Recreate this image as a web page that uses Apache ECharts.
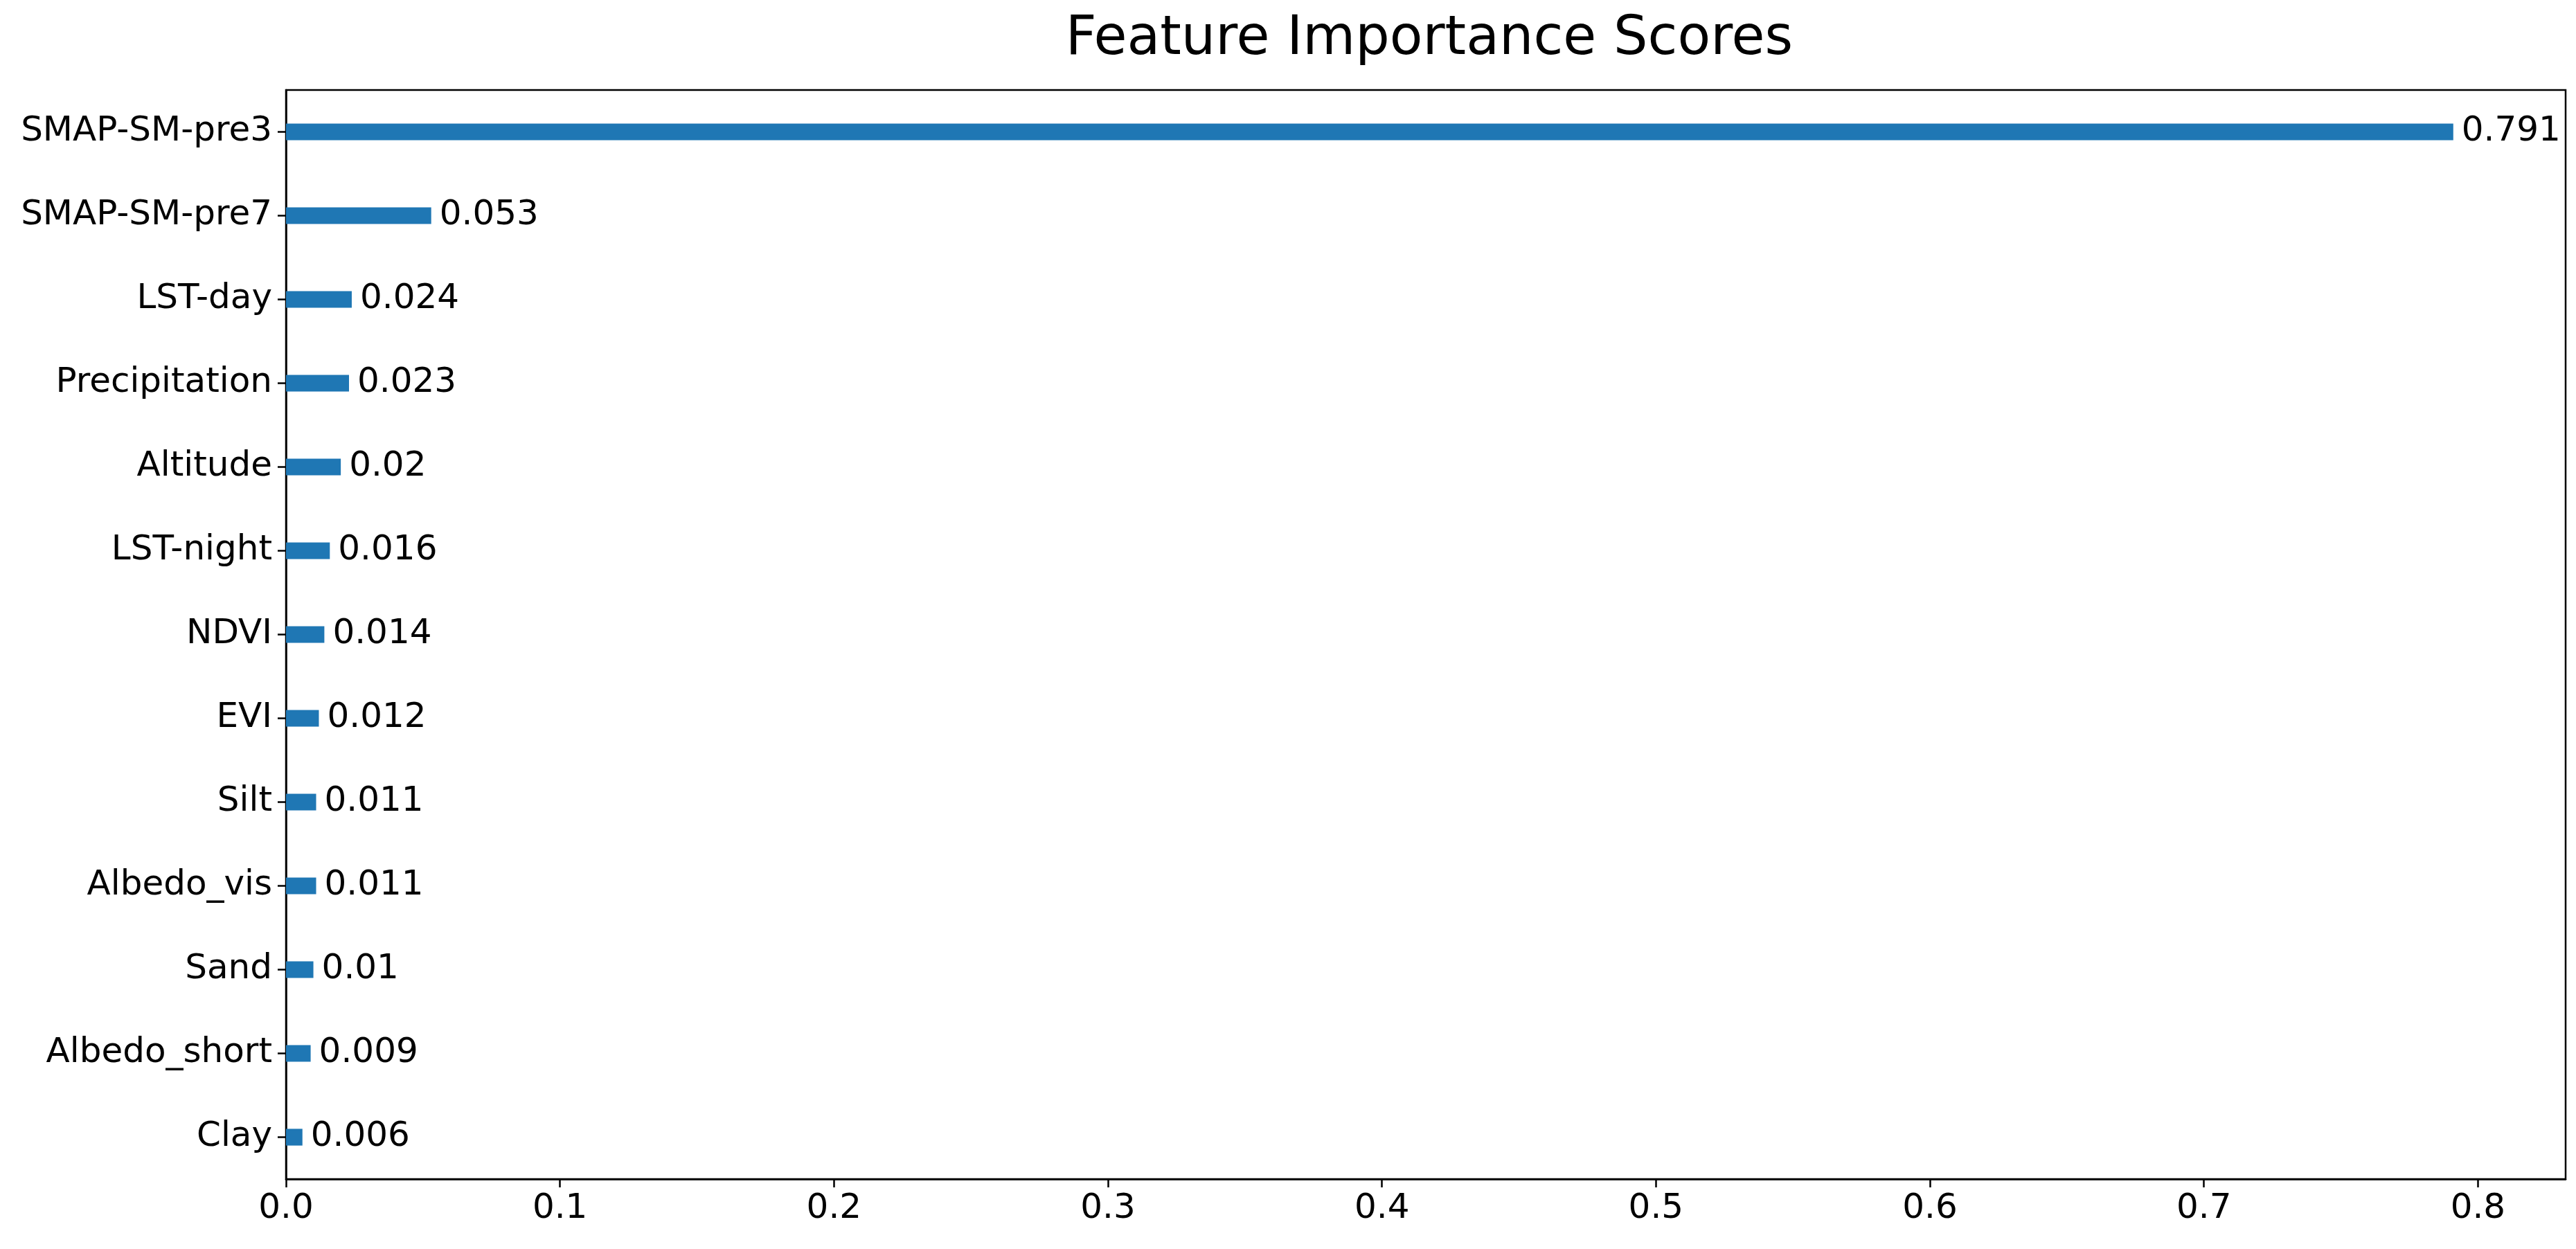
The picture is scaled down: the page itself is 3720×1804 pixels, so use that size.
<!DOCTYPE html>
<html>
<head>
<meta charset="utf-8">
<script src="https://cdn.jsdelivr.net/npm/echarts@6/dist/echarts.min.js"></script>
<style>html,body{margin:0;padding:0;background:#fff}#chart{width:3720px;height:1804px}</style>
</head>
<body>
<div id="chart"></div>
<script>
// 特征名称（自下而上）
var features = ['Clay', 'Albedo_short', 'Sand', 'Albedo_vis', 'Silt', 'EVI', 'NDVI', 'LST-night', 'Altitude', 'Precipitation', 'LST-day', 'SMAP-SM-pre7', 'SMAP-SM-pre3'];
var scores = [0.006, 0.009, 0.01, 0.011, 0.011, 0.012, 0.014, 0.016, 0.02, 0.023, 0.024, 0.053, 0.791];
var xTicks = [0, 0.1, 0.2, 0.3, 0.4, 0.5, 0.6, 0.7, 0.8];

var chart = echarts.init(document.getElementById('chart'));
chart.setOption({
    animation: false,
    title: {
        text: 'Feature Importance Scores',
        left: 2059,
        textAlign: 'center',
        top: 14,
        textStyle: {fontFamily: 'DejaVu Sans', fontSize: 78, fontWeight: 'normal', color: '#000'}
    },
    grid: {
        left: 413, right: 15, top: 130, bottom: 101,
        show: true, borderColor: '#000', borderWidth: 2.5
    },
    xAxis: {
        type: 'value',
        min: 0,
        max: 0.832,
        interval: 0.1,
        splitLine: {show: false},
        axisLine: {show: true, lineStyle: {color: '#000', width: 2.5}},
        axisTick: {show: true, length: 12, lineStyle: {color: '#000', width: 2.5}},
        axisLabel: {
            fontFamily: 'DejaVu Sans', fontSize: 50, color: '#000', margin: 18,
            showMaxLabel: false,
            formatter: function(v){ return xTicks.indexOf(Math.round(v * 10) / 10) >= 0 ? v.toFixed(1) : ''; }
        }
    },
    yAxis: {
        type: 'category',
        data: features,
        axisLine: {show: true, lineStyle: {color: '#000', width: 2.5}},
        axisTick: {show: true, alignWithLabel: true, length: 12, lineStyle: {color: '#000', width: 2.5}},
        axisLabel: {fontFamily: 'DejaVu Sans', fontSize: 50, color: '#000', margin: 20}
    },
    series: [{
        type: 'bar',
        data: scores,
        barWidth: '20%',
        itemStyle: {color: '#1f77b4'},
        label: {
            show: true,
            position: 'right',
            distance: 12,
            fontFamily: 'DejaVu Sans', fontSize: 50, color: '#000',
            formatter: function(p){ return String(p.value); }
        }
    }]
});
</script>
</body>
</html>
